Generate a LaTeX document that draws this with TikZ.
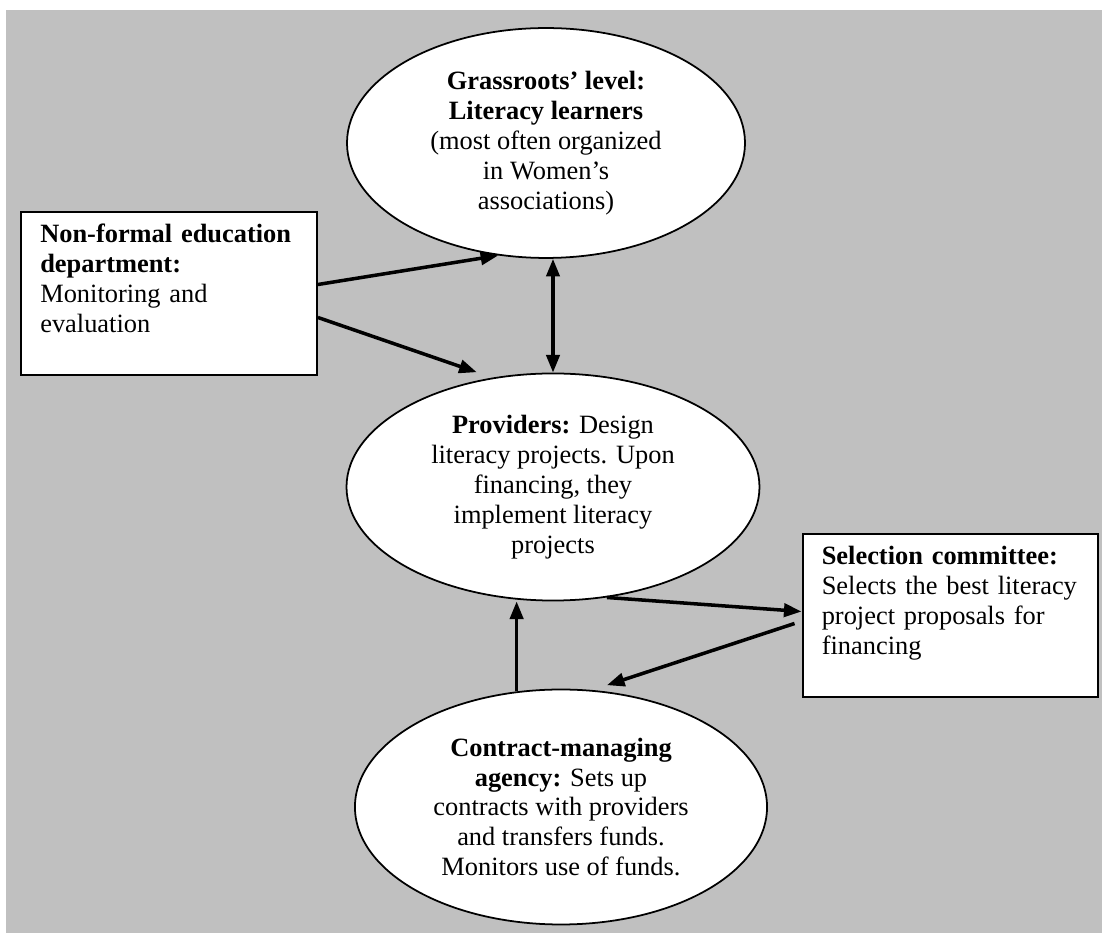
\documentclass[tikz,border=0pt]{standalone}
\usepackage{fontspec}
\setmainfont{Liberation Serif}
\usepackage{xcolor}
\usepackage{tikz}
\usetikzlibrary{arrows.meta}
\usetikzlibrary{shapes.geometric}
\usetikzlibrary{calc}

\definecolor{bggray}{RGB}{192,192,192}

\begin{document}
\begin{tikzpicture}[x=0.4545pt,y=-0.4545pt,>={Triangle[length=8pt,width=6pt]},font=\fontsize{12pt}{13.6pt}\selectfont]
	\tikzstyle{actor}=[ellipse, draw=black, fill=white, line width=0.8pt, inner sep=0pt, align=center]
	\tikzstyle{panel}=[rectangle, draw=black, fill=white, line width=0.9pt, text width=117pt, inner xsep=8.75pt, minimum height=74.1pt, align=left]
	\tikzstyle{flow}=[->, line width=1.6pt]
	\useasboundingbox (0,0) rectangle (1102,933);
	\fill[bggray] (6,10) rectangle (1102,933);

	\node[actor, minimum width=180.9pt, minimum height=104.5pt] (learners) at (546,143)
		{\textbf{Grassroots’ level:}\\\textbf{Literacy learners}\\(most often organized\\in Women’s\\associations)};
	\node[actor, minimum width=187.7pt, minimum height=103.2pt] (providers) at (553,487)
		{\textbf{Providers:} Design\\literacy projects. Upon\\financing, they\\implement literacy\\projects};
	\node[actor, minimum width=187.3pt, minimum height=106.8pt] (contract) at (561,807)
		{\textbf{Contract-managing}\\\textbf{agency:} Sets up\\contracts with providers\\and transfers funds.\\Monitors use of funds.};
	\node[panel] (nfe) at (169,293.5)
		{\textbf{Non-formal education}\\\textbf{department:}\\Monitoring and\\evaluation\\\mbox{}};
	\node[panel] (sel) at (950.5,615.5)
		{\textbf{Selection committee:}\\Selects the best literacy\\project proposals for\\financing\\\mbox{}};

	\path[flow]
		($(nfe.east)+(0,-9)$) edge (learners.247)
		($(nfe.east)+(0,24)$) edge[shorten >=7.5pt] (providers.119)
		(learners.south -| providers.north) edge[<->] (providers.north)
		(providers.296) edge ($(sel.west)+(0,-4)$)
		($(sel.west)+(-7,8)$) edge[shorten >=7pt] (contract.75)
		(contract.111) edge (contract.111 |- providers.south);
\end{tikzpicture}
\end{document}
